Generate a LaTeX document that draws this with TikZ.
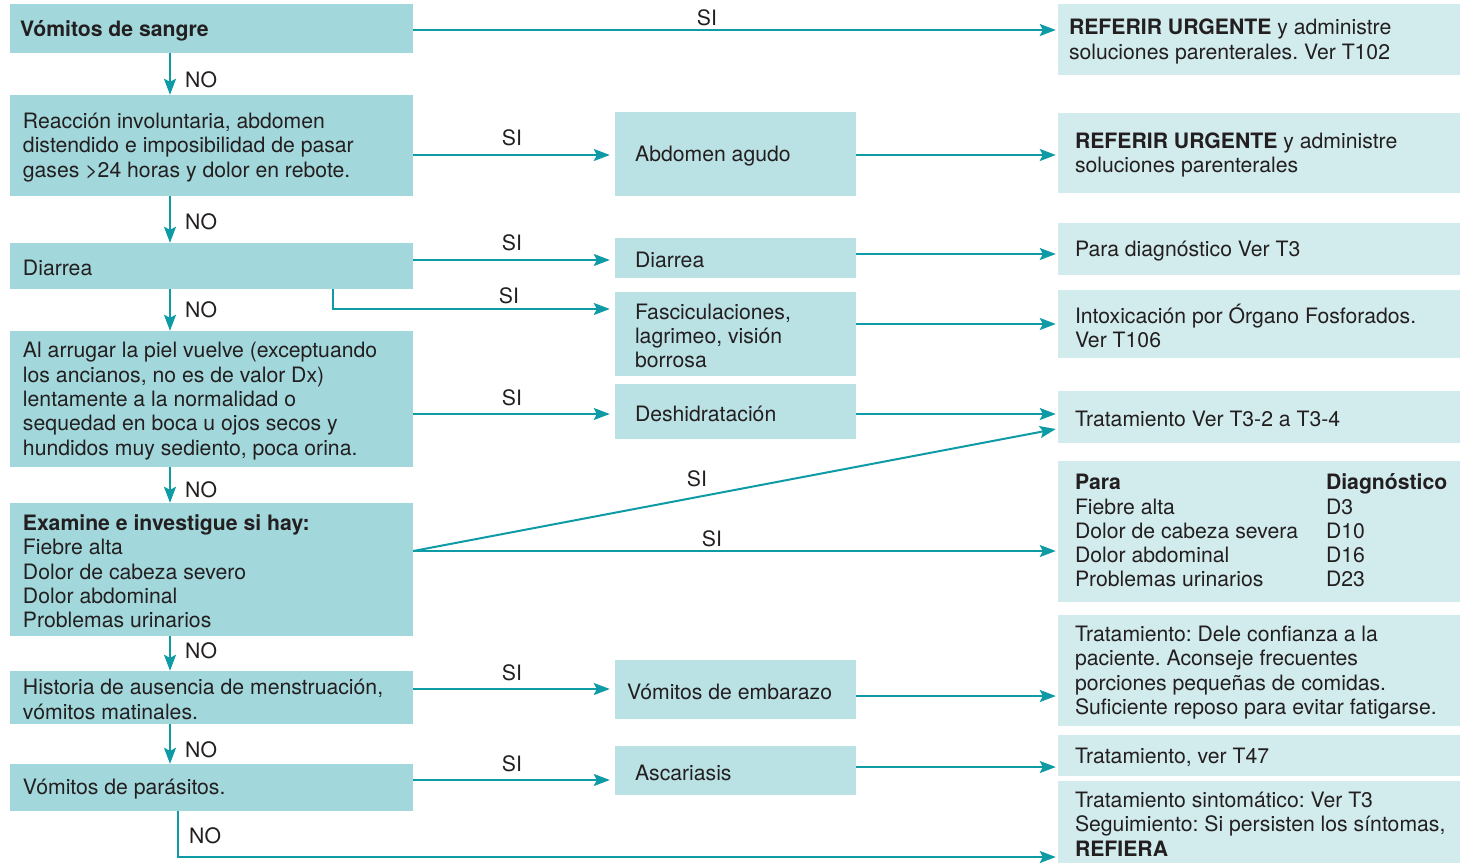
\documentclass[tikz,border=0pt]{standalone}
\usepackage{fontspec}
\setmainfont{TeX Gyre Heros}
\usetikzlibrary{arrows.meta}
\definecolor{leftc}{HTML}{A2D7DB}
\definecolor{midc}{HTML}{BAE1E4}
\definecolor{rightc}{HTML}{D2EBED}
\definecolor{txtc}{HTML}{231F20}
\definecolor{linec}{HTML}{0F9BA6}
\frenchspacing
\newcommand\mybx[8]{%
  \node[#7, minimum width={(#4-#2)*1pt}, minimum height={(#5-#3)*1pt}] (#1) at ({(#2+#4)/2},{(#3+#5)/2}) {};
  \node[txt, anchor=west] (#1t) at ([xshift=#6pt,yshift=-2pt]#1.west) {#8};
}
\begin{document}
\begin{tikzpicture}[x=1pt,y=-1pt,
  every node/.style={font=\fontsize{21.2}{24.3}\selectfont, text=txtc},
  lbox/.style={rectangle, fill=leftc, inner sep=0pt, draw=none},
  mbox/.style={rectangle, fill=midc, inner sep=0pt, draw=none},
  rbox/.style={rectangle, fill=rightc, inner sep=0pt, draw=none},
  txt/.style={inner sep=0pt, align=left},
  arr/.style={draw=linec, line width=2pt, -{Stealth[length=16pt,width=12pt,inset=3pt]}},
  lab/.style={inner sep=0pt}]
\useasboundingbox (0,0) rectangle (1463,863);
% left column
\mybx{b1}{10}{4}{413}{53}{10}{lbox}{\bfseries Vómitos de sangre}
\mybx{b2}{10}{95}{413}{196}{13}{lbox}{\fontsize{21.2}{26.5}\selectfont Reacción involuntaria, abdomen\\distendido e imposibilidad de pasar\\gases >24 horas y dolor en rebote.}
\mybx{b3}{10}{243}{413}{289}{13}{lbox}{Diarrea}
\mybx{b4}{10}{331}{413}{467}{13}{lbox}{Al arrugar la piel vuelve (exceptuando\\los ancianos, no es de valor Dx)\\lentamente a la normalidad o\\sequedad en boca u ojos secos y\\hundidos muy sediento, poca orina.}
\mybx{b5}{10}{503}{413}{636}{13}{lbox}{\textbf{Examine e investigue si hay:}\\Fiebre alta\\Dolor de cabeza severo\\Dolor abdominal\\Problemas urinarios}
\mybx{b6}{10}{671}{413}{724}{13}{lbox}{Historia de ausencia de menstruación,\\vómitos matinales.}
\mybx{b7}{10}{764}{413}{811}{13}{lbox}{Vómitos de parásitos.}
% middle column
\mybx{m2}{615}{112}{856}{196}{20}{mbox}{Abdomen agudo}
\mybx{m3}{615}{238}{856}{278}{20}{mbox}{Diarrea}
\mybx{m3b}{615}{292}{856}{376}{20}{mbox}{Fasciculaciones,\\lagrimeo, visión\\borrosa}
\mybx{m4}{615}{384}{856}{439}{20}{mbox}{Deshidratación}
\mybx{m6}{615}{660}{856}{719}{12}{mbox}{Vómitos de embarazo}
\mybx{m7}{615}{746}{856}{795}{20}{mbox}{Ascariasis}
% right column
\mybx{r1}{1058}{4}{1460}{75}{11}{rbox}{\textbf{REFERIR URGENTE} y administre\\soluciones parenterales. Ver T102}
\mybx{r2}{1058}{113}{1460}{193}{17}{rbox}{\textbf{REFERIR URGENTE} y administre\\soluciones parenterales}
\mybx{r3}{1058}{223}{1460}{275}{17}{rbox}{Para diagnóstico Ver T3}
\mybx{r4}{1058}{290}{1460}{358}{17}{rbox}{Intoxicación por Órgano Fosforados.\\Ver T106}
\mybx{r5}{1058}{391}{1460}{443}{17}{rbox}{Tratamiento Ver T3-2 a T3-4}
\mybx{r6}{1058}{461}{1460}{602}{17}{rbox}{\begin{tabular}{@{}p{251pt}@{}l@{}}\textbf{Para} & \textbf{Diagnóstico}\\Fiebre alta & D3\\Dolor de cabeza severa & D10\\Dolor abdominal & D16\\Problemas urinarios & D23\end{tabular}}
\mybx{r7}{1058}{615}{1460}{726}{17}{rbox}{Tratamiento: Dele confianza a la\\paciente. Aconseje frecuentes\\porciones pequeñas de comidas.\\Suficiente reposo para evitar fatigarse.}
\mybx{r8}{1058}{735}{1460}{776}{17}{rbox}{Tratamiento, ver T47}
\mybx{r9}{1058}{781}{1460}{863}{17}{rbox}{\fontsize{21.2}{26}\selectfont Tratamiento sintomático: Ver T3\\Seguimiento: Si persisten los síntomas,\\\textbf{REFIERA}}
% vertical NO arrows
\draw[arr] (b1.south -| 170,0) -- (b2.north -| 170,0);
\draw[arr] (b2.south -| 170,0) -- (b3.north -| 170,0);
\draw[arr] (b3.south -| 170,0) -- (b4.north -| 170,0);
\draw[arr] (b4.south -| 170,0) -- (b5.north -| 170,0);
\draw[arr] (b5.south -| 170,0) -- (b6.north -| 170,0);
\draw[arr] (b6.south -| 170,0) -- (b7.north -| 170,0);
\node[lab, anchor=west] (n1) at (185,80) {NO};
\node[lab, anchor=west] (n2) at (185,222) {NO};
\node[lab, anchor=west] (n3) at (185,310) {NO};
\node[lab, anchor=west] (n4) at (185,490) {NO};
\node[lab, anchor=west] (n5) at (185,651) {NO};
\node[lab, anchor=west] (n6) at (185,750) {NO};
\node[lab, anchor=west] (n7) at (189,836) {NO};
% horizontal arrows
\draw[arr] (b1.east |- 0,30) -- ([xshift=-2pt]r1.west |- 0,30);
\node[lab] (s1) at (707,18) {SI};
\draw[arr] (b2.east |- 0,155) -- ([xshift=-5pt]m2.west |- 0,155);
\node[lab] (s2) at (512,138) {SI};
\draw[arr] (m2.east |- 0,155) -- ([xshift=-2pt]r2.west |- 0,155);
\draw[arr] (b3.east |- 0,260) -- ([xshift=-5pt]m3.west |- 0,260);
\node[lab] (s3) at (512,243) {SI};
\draw[arr] (m3.east |- 0,254) -- ([xshift=-2pt]r3.west |- 0,254);
\draw[arr] (b3.south -| 333,0) |- ([xshift=-5pt]m3b.west |- 0,309);
\node[lab] (s4) at (509,296) {SI};
\draw[arr] (m3b.east |- 0,324) -- ([xshift=-2pt]r4.west |- 0,324);
\draw[arr] (b4.east |- 0,414) -- ([xshift=-5pt]m4.west |- 0,414);
\node[lab] (s5) at (512,398) {SI};
\draw[arr] (m4.east |- 0,414) -- ([xshift=-2pt]r5.west |- 0,414);
\draw[arr] (b5.east |- 0,551) -- ([xshift=-2pt]r5.west |- 0,429);
\node[lab] (s6) at (697,479) {SI};
\draw[arr] (b5.east |- 0,551) -- ([xshift=-2pt]r6.west |- 0,551);
\node[lab] (s7) at (712,539) {SI};
\draw[arr] (b6.east |- 0,689) -- ([xshift=-5pt]m6.west |- 0,689);
\node[lab] (s8) at (512,673) {SI};
\draw[arr] (m6.east |- 0,696) -- ([xshift=-2pt]r7.west |- 0,696);
\draw[arr] (b7.east |- 0,780) -- ([xshift=-5pt]m7.west |- 0,780);
\node[lab] (s9) at (512,764) {SI};
\draw[arr] (m7.east |- 0,767) -- ([xshift=-2pt]r8.west |- 0,767);
\draw[arr] (b7.south -| 178,0) |- ([xshift=-2pt]r9.west |- 0,857);
\end{tikzpicture}
\end{document}
